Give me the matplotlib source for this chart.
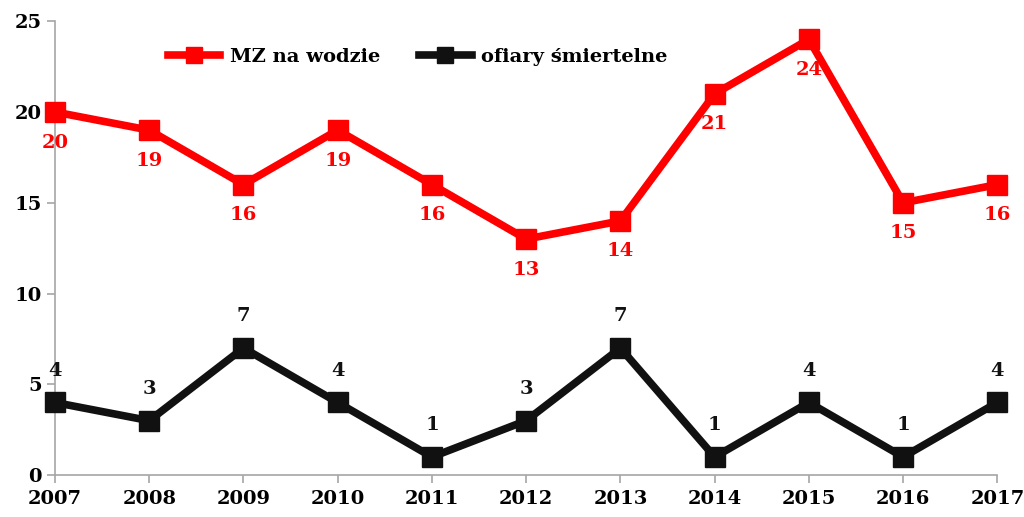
import numpy as np
import matplotlib.pyplot as plt

years = [2007, 2008, 2009, 2010, 2011, 2012, 2013, 2014, 2015, 2016, 2017]
mz_na_wodzie = [20, 19, 16, 19, 16, 13, 14, 21, 24, 15, 16]
ofiary = [4, 3, 7, 4, 1, 3, 7, 1, 4, 1, 4]

plt.rcParams['font.family'] = ['DejaVu Serif']
plt.rcParams['font.weight'] = 'bold'

fig = plt.figure(figsize=(10.24, 5.17), dpi=100)
ax = fig.add_axes([0.0537, 0.081, 0.9203, 0.878])

ax.plot(years, mz_na_wodzie, color='#FF0000', linewidth=5.5, marker='s',
        markersize=15, label='MZ na wodzie')
ax.plot(years, ofiary, color='#111111', linewidth=5.5, marker='s',
        markersize=15, label='ofiary śmiertelne')

for x, y in zip(years, mz_na_wodzie):
    ax.annotate(str(y), (x, y), xytext=(0, -22), textcoords='offset points',
                ha='center', va='center', color='#FF0000', fontsize=14,
                fontweight='bold')
for x, y in zip(years, ofiary):
    ax.annotate(str(y), (x, y), xytext=(0, 23), textcoords='offset points',
                ha='center', va='center', color='#111111', fontsize=14,
                fontweight='bold')

ax.set_xlim(2007, 2017)
ax.set_ylim(0, 25)
ax.set_xticks(years)
ax.set_yticks([0, 5, 10, 15, 20, 25])

for s in ['top', 'right']:
    ax.spines[s].set_visible(False)
for s in ['left', 'bottom']:
    ax.spines[s].set_color('#A6A6A6')
    ax.spines[s].set_linewidth(1.2)
ax.spines['left'].set_zorder(0)
ax.spines['bottom'].set_zorder(0)

ax.tick_params(axis='both', colors='#A6A6A6', labelcolor='black',
               labelsize=14, width=1.2, length=6)
ax.tick_params(axis='x', pad=5)
for lab in ax.get_xticklabels() + ax.get_yticklabels():
    lab.set_fontweight('bold')

leg = ax.legend(loc='upper center', bbox_to_anchor=(0.385, 0.98), ncols=2,
                frameon=False, fontsize=14, handlelength=2.7, columnspacing=2.0,
                handletextpad=0.5, markerscale=0.8)

for line in ax.lines:
    line.set_clip_on(False)

fig.savefig('out.png', dpi=100)
